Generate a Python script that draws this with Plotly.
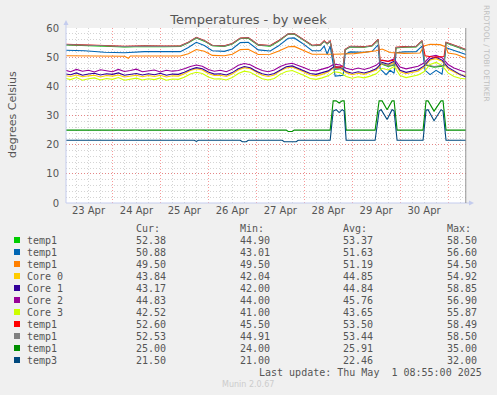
import plotly.graph_objects as go
from datetime import datetime, timedelta

# ---------------- data ----------------
BASE = datetime(2025, 4, 23)          # hours below are counted from 23 Apr 00:00
LAST_UPDATE_H = 200 + 55 / 60          # Thu May 1 08:55

grid_hours = list(range(0, 202, 3))

core0_vals = [43.7, 43.4, 43.9, 43.3, 43.6, 43.8, 43.2, 43.7, 43.5, 43.9, 43.2, 43.6, 43.8, 43.3, 43.7, 43.4, 43.8, 43.2, 43.6, 43.5,
              44.3, 45.4, 46.0, 45.6, 44.4, 43.7, 43.8, 43.4, 44.2, 45.6, 46.4, 46.0, 44.8, 43.8, 43.4, 43.9, 45.3, 46.3, 46.6, 45.8,
              44.9, 43.9, 43.6, 44.1, 44.9, 46.4, 46.1, 44.7, 44.0, 44.5, 44.1, 44.8, 45.6, 47.8, 47.2, 48.2, 45.0, 44.3, 44.8, 45.2,
              46.6, 49.0, 49.5, 48.6, 46.0, 44.8, 43.9, 43.8]
core1_vals = [44.3, 44.0, 44.6, 43.8, 44.2, 44.5, 43.9, 44.3, 44.1, 44.6, 43.8, 44.2, 44.4, 43.9, 44.3, 44.0, 44.5, 43.8, 44.2, 44.1,
              44.8, 45.8, 46.4, 46.0, 44.9, 44.2, 44.3, 43.9, 44.7, 46.0, 46.8, 46.4, 45.2, 44.3, 43.9, 44.4, 45.7, 46.7, 47.0, 46.2,
              45.3, 44.4, 44.1, 44.6, 45.3, 46.8, 46.5, 45.1, 44.5, 45.0, 44.6, 45.2, 46.0, 48.2, 47.6, 48.6, 45.5, 44.8, 45.3, 45.7,
              47.0, 49.4, 50.0, 49.0, 46.5, 45.2, 44.1, 43.2]
core2_vals = [45.6, 45.0, 45.8, 45.2, 45.5, 44.9, 45.7, 45.3, 45.0, 45.8, 45.1, 45.4, 45.9, 45.0, 45.3, 45.6, 44.9, 45.5, 45.2, 45.4,
              46.0, 46.8, 47.3, 46.9, 45.8, 45.2, 45.5, 45.0, 45.9, 47.2, 47.8, 47.4, 46.3, 45.4, 45.0, 45.6, 46.8, 47.6, 47.9, 47.2,
              46.4, 45.5, 45.3, 45.9, 46.5, 47.6, 47.3, 46.2, 45.7, 46.3, 45.8, 46.4, 47.2, 49.0, 48.6, 49.4, 46.6, 46.0, 46.4, 46.9,
              48.0, 50.2, 50.6, 49.8, 47.5, 46.3, 45.5, 44.8]
core3_vals = [42.8, 42.3, 43.0, 42.1, 42.6, 42.9, 42.2, 42.7, 42.4, 43.0, 42.1, 42.5, 42.8, 42.2, 42.6, 42.3, 42.9, 42.1, 42.5, 42.4,
              43.1, 44.2, 44.8, 44.4, 43.2, 42.5, 42.6, 42.2, 43.0, 44.4, 45.2, 44.8, 43.6, 42.6, 42.2, 42.7, 44.1, 45.1, 45.4, 44.6,
              43.7, 42.7, 42.4, 42.9, 43.6, 45.0, 44.7, 43.4, 42.8, 43.3, 42.9, 43.5, 44.3, 46.2, 45.6, 46.8, 43.7, 43.0, 43.5, 43.9,
              45.0, 47.5, 48.2, 47.2, 44.6, 43.4, 42.8, 42.5]

green_pts = [(0, 54.2), (10, 54.1), (20, 53.8), (30, 53.5), (40, 53.7), (50, 53.6), (58, 53.7), (62, 54.9), (66, 56.6), (70, 55.5),
             (74, 53.9), (80, 53.7), (84, 54.5), (88, 56.4), (92, 56.5), (97, 54.1), (103, 53.8), (107, 55.4), (112, 57.9), (115, 57.9),
             (119, 56.2), (124, 53.9), (128, 54.1), (130, 55.4), (131.5, 54.5), (133, 55.4), (134.5, 49.8), (135.5, 45.8), (139.5, 46.1),
             (140.5, 52.5), (143, 53.5), (150, 53.4), (154, 53.8), (157, 55.9), (158, 47.8), (162, 46.8), (165, 47.3), (166, 53.2),
             (170, 53.4), (176, 53.5), (179, 55.5), (180.5, 47.3), (185, 46.6), (190, 47.0), (191, 54.9), (195, 53.9), (201, 52.4)]
blue_pts = [(0, 52.4), (10, 52.2), (20, 51.7), (30, 51.5), (40, 51.9), (50, 51.8), (58, 51.9), (62, 53.3), (66, 55.1), (70, 54.0),
            (74, 52.2), (80, 52.0), (84, 52.8), (88, 55.0), (92, 55.1), (97, 52.5), (103, 52.1), (107, 53.8), (112, 56.5), (115, 56.6),
            (119, 54.8), (124, 52.2), (128, 52.2), (130, 53.8), (131.5, 51.0), (133, 53.8), (134.5, 47.0), (135.5, 43.5), (139.5, 43.8),
            (140.5, 51.0), (143, 51.8), (150, 51.7), (154, 52.0), (157, 54.2), (158, 46.0), (161, 44.0), (163, 45.5), (165, 44.5),
            (166, 51.5), (170, 51.8), (176, 51.9), (179, 53.8), (180.5, 45.5), (183, 44.0), (186, 45.5), (189, 44.2), (191, 53.2),
            (195, 52.3), (201, 50.9)]
orange_pts = [(0, 50.5), (15, 50.4), (30, 50.3), (32, 49.6), (33, 50.4), (50, 50.4), (58, 50.4), (62, 51.2), (66, 52.6), (70, 52.0),
              (74, 50.6), (80, 50.5), (84, 51.0), (88, 52.6), (92, 52.7), (97, 50.9), (103, 51.0), (107, 52.0), (112, 53.6), (115, 53.7),
              (119, 52.5), (124, 51.0), (135, 51.0), (145, 51.2), (152, 51.8), (156, 52.2), (159, 52.8), (163, 51.6), (170, 51.3),
              (178, 51.4), (180, 53.8), (183, 54.4), (188, 54.3), (191, 53.5), (192, 51.4), (196, 51.0), (201, 49.6)]
red_pts = [(0, 54.4), (10, 54.3), (20, 54.0), (30, 53.7), (40, 53.9), (50, 53.8), (58, 53.9), (62, 55.1), (66, 56.8), (70, 55.7),
           (74, 54.1), (80, 53.9), (84, 54.7), (88, 56.6), (92, 56.7), (97, 54.3), (103, 54.0), (107, 55.6), (112, 58.0), (115, 58.1),
           (119, 56.4), (124, 54.1), (128, 54.3), (130, 55.6), (131.5, 54.7), (133, 55.6), (134.5, 50.5), (135.5, 46.5), (139.5, 46.8),
           (140.5, 52.7), (143, 53.7), (150, 53.6), (154, 54.0), (157, 56.1), (158, 49.0), (162, 48.5), (165, 49.0), (166, 53.4),
           (170, 53.6), (176, 53.7), (179, 55.7), (180.5, 50.5), (185, 50.0), (190, 50.2), (191, 55.1), (195, 54.1), (201, 52.6)]
gray_pts = [(0, 54.3), (10, 54.2), (20, 53.9), (30, 53.6), (40, 53.8), (50, 53.7), (58, 53.8), (62, 55.0), (66, 56.7), (70, 55.6),
            (74, 54.0), (80, 53.8), (84, 54.6), (88, 56.5), (92, 56.6), (97, 54.2), (103, 53.9), (107, 55.5), (112, 58.0), (115, 58.0),
            (119, 56.3), (124, 54.0), (128, 54.2), (130, 55.5), (131.5, 54.6), (133, 55.5), (134.5, 50.0), (135.5, 46.0), (139.5, 46.3),
            (140.5, 52.6), (143, 53.6), (150, 53.5), (154, 53.9), (157, 56.0), (158, 48.0), (162, 47.0), (165, 47.5), (166, 53.3),
            (170, 53.5), (176, 53.6), (179, 55.6), (180.5, 47.5), (185, 46.8), (190, 47.2), (191, 55.0), (195, 54.0), (201, 52.5)]
dkgreen_pts = [(0, 25), (111, 25), (112, 24.5), (114, 24.5), (115, 25), (133, 25), (134.5, 35), (136, 35), (137.5, 34.3), (139, 35),
               (140, 35), (141, 25), (155.5, 25), (157.5, 35), (159, 35), (161.5, 32), (164, 35), (165, 35), (166.5, 25), (179.5, 25),
               (181, 35), (182, 35), (185, 31.5), (188.5, 35), (189.5, 35), (191, 25), (201, 25)]
temp3_pts = [(0, 21.5), (65, 21.5), (66, 21.1), (67, 21.5), (88, 21.5), (89, 21.0), (91, 21.0), (92, 21.5), (109, 21.5), (110, 21.0),
             (116, 21.0), (117, 21.5), (133, 21.5), (134.5, 31.5), (136, 32.0), (137.5, 31.0), (139, 32.0), (140, 31.5), (141, 21.5),
             (155.5, 21.5), (157.5, 31.5), (158.5, 32.0), (161.5, 28.6), (164, 32.0), (165, 31.5), (166.5, 21.5), (179.5, 21.5),
             (181, 31.8), (182, 32.0), (185, 28.2), (188.5, 32.0), (189.5, 31.5), (191, 21.5), (201, 21.5)]

legend_labels = ["temp1", "temp1", "temp1", "Core 0", "Core 1", "Core 2", "Core 3", "temp1", "temp1", "temp1", "temp3"]
colors = ["#00CC00", "#0066B3", "#FF8000", "#FFCC00", "#330099", "#990099", "#CCFF00", "#FF0000", "#808080", "#008F00", "#00487D"]
cur_vals = ["52.38", "50.88", "49.50", "43.84", "43.17", "44.83", "42.52", "52.60", "52.53", "25.00", "21.50"]
min_vals = ["44.90", "43.01", "49.50", "42.04", "42.00", "44.00", "41.00", "45.50", "44.91", "24.00", "21.00"]
avg_vals = ["53.37", "51.63", "51.19", "44.85", "44.84", "45.76", "43.65", "53.50", "53.44", "25.91", "22.46"]
max_vals = ["58.50", "56.60", "54.50", "54.92", "58.85", "56.90", "55.87", "58.49", "58.50", "35.00", "32.00"]

y_ticks = [0, 10, 20, 30, 40, 50, 60]

# ---------------- helpers ----------------
def ts(h):
    return BASE + timedelta(hours=h)

W, H = 497, 395
L, R, T, B = 66, 467, 28, 203


def pxx(x):
    return (x - L) / (R - L)


def pxy(y):
    return (B - y) / (B - T)


series = [
    ([p[0] for p in green_pts], [p[1] for p in green_pts]),
    ([p[0] for p in blue_pts], [p[1] for p in blue_pts]),
    ([p[0] for p in orange_pts], [p[1] for p in orange_pts]),
    (grid_hours, core0_vals),
    (grid_hours, core1_vals),
    (grid_hours, core2_vals),
    (grid_hours, core3_vals),
    ([p[0] for p in red_pts], [p[1] for p in red_pts]),
    ([p[0] for p in gray_pts], [p[1] for p in gray_pts]),
    ([p[0] for p in dkgreen_pts], [p[1] for p in dkgreen_pts]),
    ([p[0] for p in temp3_pts], [p[1] for p in temp3_pts]),
]

fig = go.Figure()
for (hrs, vals), col, name in zip(series, colors, legend_labels):
    fig.add_trace(go.Scatter(x=[ts(h) for h in hrs], y=vals, mode="lines", name=name,
                             line=dict(color=col, width=1.1), showlegend=False, hoverinfo="skip"))

MAJOR = "rgba(240,70,70,0.55)"
MINOR = "rgba(170,170,170,0.5)"
TXT = "#555555"

fig.update_layout(
    width=W, height=H,
    margin=dict(l=L, r=W - R, t=T, b=H - B, pad=0),
    paper_bgcolor="#F0F0F0", plot_bgcolor="#FFFFFF",
    font=dict(family="DejaVu Sans", size=10, color=TXT),
    title=dict(text="Temperatures - by week", x=0.5, xref="container", xanchor="center",
               y=1 - 19 / H, yref="container", yanchor="middle",
               font=dict(family="DejaVu Sans", size=13, color="#555555")),
    showlegend=False,
)

fig.update_xaxes(
    type="date", range=[ts(0.75), ts(201.5)],
    tick0=BASE, dtick=86400000, ticklabelmode="period", tickformat="%d %b",
    showgrid=True, gridcolor=MAJOR, griddash="1px,2px", gridwidth=1,
    minor=dict(dtick=6 * 3600000, tick0=BASE, showgrid=True, gridcolor=MINOR, griddash="1px,2px", gridwidth=1),
    showline=False, zeroline=False, ticks="", tickfont=dict(size=10, color=TXT),
    fixedrange=True,
)
fig.update_yaxes(
    range=[0, 60], tickvals=y_ticks, ticktext=[str(v) for v in y_ticks],
    showgrid=True, gridcolor=MAJOR, griddash="1px,2px", gridwidth=1,
    minor=dict(dtick=2, showgrid=True, gridcolor=MINOR, griddash="1px,2px", gridwidth=1),
    showline=False, zeroline=False, ticks="outside", ticklen=4, tickcolor="rgba(0,0,0,0)",
    tickfont=dict(size=10, color=TXT), fixedrange=True,
)

shapes = []
AX = "#C4CCEE"
# axis lines + arrows
shapes.append(dict(type="line", xref="paper", yref="paper", x0=0, x1=pxx(470), y0=0, y1=0,
                   line=dict(color=AX, width=1)))
shapes.append(dict(type="line", xref="paper", yref="paper", x0=0, x1=0, y0=0, y1=pxy(24),
                   line=dict(color=AX, width=1)))
shapes.append(dict(type="path", xref="paper", yref="paper",
                   path=f"M {pxx(469)} {pxy(200.5)} L {pxx(474)} {pxy(203)} L {pxx(469)} {pxy(205.5)} Z",
                   fillcolor=AX, line=dict(color=AX, width=0)))
shapes.append(dict(type="path", xref="paper", yref="paper",
                   path=f"M {pxx(63.5)} {pxy(25)} L {pxx(66)} {pxy(20)} L {pxx(68.5)} {pxy(25)} Z",
                   fillcolor=AX, line=dict(color=AX, width=0)))
# last-update marker
shapes.append(dict(type="line", xref="x", yref="paper", x0=ts(LAST_UPDATE_H), x1=ts(LAST_UPDATE_H), y0=0, y1=1,
                   line=dict(color="#888888", width=1)))

annotations = []
annotations.append(dict(text="degrees Celsius", xref="paper", yref="paper", x=pxx(12), y=pxy(115),
                        textangle=-90, showarrow=False, xanchor="center", yanchor="middle",
                        font=dict(family="DejaVu Sans", size=11, color=TXT)))
annotations.append(dict(text="RRDTOOL / TOBI OETIKER", xref="paper", yref="paper", x=pxx(487), y=pxy(53),
                        textangle=90, showarrow=False, xanchor="center", yanchor="middle",
                        font=dict(family="DejaVu Sans", size=7.5, color="#C0C0C0")))

MONO = dict(family="DejaVu Sans Mono", size=10, color=TXT)
col_x = [136, 240, 343, 447]
for cx, head in zip(col_x, ["Cur:", "Min:", "Avg:", "Max:"]):
    annotations.append(dict(text=head, xref="paper", yref="paper", x=pxx(cx), y=pxy(228), showarrow=False,
                            xanchor="left", yanchor="middle", font=MONO, borderpad=0, borderwidth=0))
for i, (lab, col) in enumerate(zip(legend_labels, colors)):
    ry = 240 + 12 * i
    shapes.append(dict(type="rect", xref="paper", yref="paper", x0=pxx(14), x1=pxx(20), y0=pxy(ry + 3), y1=pxy(ry - 3),
                       fillcolor=col, line=dict(width=0)))
    annotations.append(dict(text=lab, xref="paper", yref="paper", x=pxx(26.5), y=pxy(ry), showarrow=False,
                            xanchor="left", yanchor="middle", font=MONO, borderpad=0, borderwidth=0))
    for cx, v in zip(col_x, [cur_vals[i], min_vals[i], avg_vals[i], max_vals[i]]):
        annotations.append(dict(text=v, xref="paper", yref="paper", x=pxx(cx), y=pxy(ry), showarrow=False,
                                xanchor="left", yanchor="middle", font=MONO, borderpad=0, borderwidth=0))
annotations.append(dict(text="Last update: Thu May \u00a01 08:55:00 2025", xref="paper", yref="paper",
                        x=pxx(482), y=pxy(372), showarrow=False, xanchor="right", yanchor="middle",
                        font=MONO, borderpad=0, borderwidth=0))
annotations.append(dict(text="Munin 2.0.67", xref="paper", yref="paper", x=pxx(248), y=pxy(384),
                        showarrow=False, xanchor="center", yanchor="middle",
                        font=dict(family="DejaVu Sans", size=8, color="#CCCCCC")))

fig.update_layout(shapes=shapes, annotations=annotations)
fig.write_html("out.html", config={"displayModeBar": False, "staticPlot": True},
               post_script="document.body.style.margin='0';document.body.style.padding='0';"
                           "document.body.style.background='#F0F0F0';document.body.style.overflow='hidden';")
